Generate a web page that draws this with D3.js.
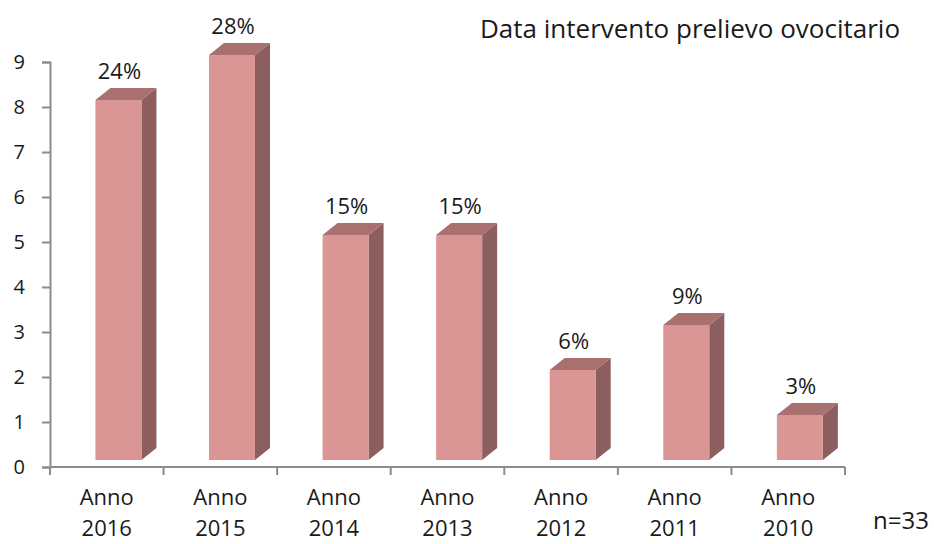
<!DOCTYPE html>
<html>
<head>
<meta charset="utf-8">
<script src="https://cdn.jsdelivr.net/npm/d3@7"></script>
<style>
  html, body { margin: 0; padding: 0; background: #fff; }
  svg { display: block; font-family: "Open Sans", sans-serif; }
</style>
</head>
<body>
<svg id="chart" width="934" height="544"></svg>
<script>
const categories = ["Anno 2016", "Anno 2015", "Anno 2014", "Anno 2013", "Anno 2012", "Anno 2011", "Anno 2010"];
const values = [8, 9, 5, 5, 2, 3, 1];
const percentLabels = ["24%", "28%", "15%", "15%", "6%", "9%", "3%"];
const yTicks = [0, 1, 2, 3, 4, 5, 6, 7, 8, 9];
const titleText = "Data intervento prelievo ovocitario";
const noteText = "n=33";

(function () {
const svg = d3.select("#chart");
const plotLeft = 50, plotRight = 845, plotBottom = 467, plotTop = 62;

const x = d3.scaleBand().domain(categories).range([plotLeft, plotRight]).paddingInner(0).paddingOuter(0);
const y = d3.scaleLinear().domain([0, 9]).range([plotBottom, plotTop]);

const axisColor = "#8c8c8c";

// Y axis
const yAxis = d3.axisLeft(y).tickValues(yTicks).tickSize(8).tickPadding(17).tickFormat(d3.format("d"));
const gy = svg.append("g").attr("transform", `translate(${plotLeft},0)`).call(yAxis);
gy.select(".domain").attr("stroke", axisColor).attr("stroke-width", 2);
gy.selectAll(".tick line").attr("stroke", axisColor).attr("stroke-width", 2);
gy.selectAll(".tick text").attr("font-size", 20).attr("fill", "#1a1a1a")
  .attr("font-family", "Open Sans, sans-serif");

// X axis line with ticks at category boundaries
const bw = x.bandwidth();
const gx = svg.append("g");
gx.append("line").attr("x1", plotLeft).attr("x2", plotRight).attr("y1", plotBottom).attr("y2", plotBottom)
  .attr("stroke", axisColor).attr("stroke-width", 2);
const boundaries = categories.map(c => x(c)).concat([x(categories[categories.length - 1]) + bw]);
gx.selectAll("line.bt").data(boundaries).enter().append("line").attr("class", "bt")
  .attr("x1", d => d).attr("x2", d => d).attr("y1", plotBottom).attr("y2", plotBottom + 8)
  .attr("stroke", axisColor).attr("stroke-width", 2);

// category labels (two lines, separate texts)
const catG = gx.selectAll("g.cat").data(categories).enter().append("g").attr("class", "cat");
catG.append("text").attr("x", d => x(d) + bw / 2).attr("y", 505)
  .attr("text-anchor", "middle").attr("font-size", 22).attr("fill", "#1a1a1a")
  .text(d => d.split(" ")[0]);
catG.append("text").attr("x", d => x(d) + bw / 2).attr("y", 536)
  .attr("text-anchor", "middle").attr("font-size", 22).attr("fill", "#1a1a1a")
  .text(d => d.split(" ")[1]);

// 3D bars
const floorShift = 7, dx = 15, dy = 12;
const frontColor = "#d99694", topColor = "#a87170", sideColor = "#8c5e5d";
const bars = svg.append("g").selectAll("g.bar").data(values.map((v, i) => ({ v, c: categories[i], p: percentLabels[i] })))
  .enter().append("g").attr("class", "bar");

bars.each(function (d) {
  const g = d3.select(this);
  const fl = x(d.c) + bw * 0.4;
  const fw = bw * 0.405;
  const fr = fl + fw;
  const ft = y(d.v) - floorShift;
  const fb = y(0) - floorShift;
  g.append("polygon")
    .attr("points", [[fr, ft], [fr + dx, ft - dy], [fr + dx, fb - dy], [fr, fb]].map(p => p.join(",")).join(" "))
    .attr("fill", sideColor);
  g.append("polygon")
    .attr("points", [[fl, ft], [fr, ft], [fr + dx, ft - dy], [fl + dx, ft - dy]].map(p => p.join(",")).join(" "))
    .attr("fill", topColor);
  g.append("rect").attr("x", fl).attr("y", ft).attr("width", fw).attr("height", fb - ft)
    .attr("fill", frontColor);
  g.append("text").attr("x", fl + fw / 2 + 1).attr("y", ft - dy - 9)
    .attr("text-anchor", "middle").attr("font-size", 22).attr("fill", "#1a1a1a").text(d.p);
});

// title
svg.append("text").attr("x", 480).attr("y", 38).attr("font-size", 26).attr("fill", "#1a1a1a").text(titleText);
// note
svg.append("text").attr("x", 873).attr("y", 529).attr("font-size", 24).attr("fill", "#1a1a1a").text(noteText);
})();
</script>
</body>
</html>
